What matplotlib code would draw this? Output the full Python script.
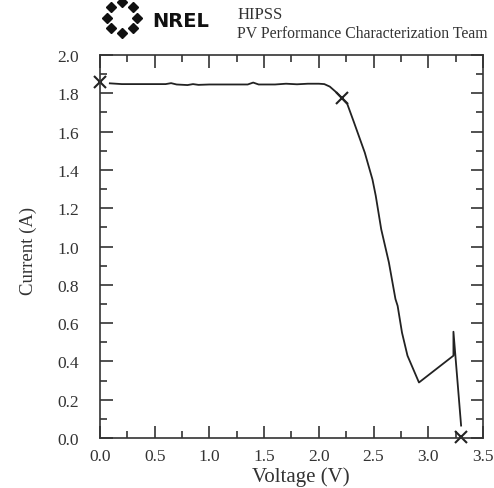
import matplotlib.pyplot as plt
import numpy as np

# I-V curve
VOLTAGE = [0.09, 0.2, 0.4, 0.6, 0.65, 0.7, 0.8, 0.85, 0.9, 1.0, 1.2, 1.35, 1.4, 1.45,
           1.6, 1.7, 1.8, 1.9, 2.0, 2.05, 2.1, 2.15, 2.21, 2.26, 2.32, 2.42, 2.49,
           2.52, 2.57, 2.64, 2.70, 2.72, 2.76, 2.81, 2.915, 3.23, 3.23, 3.30]
CURRENT = [1.852, 1.848, 1.848, 1.848, 1.853, 1.846, 1.843, 1.848, 1.844, 1.846, 1.846,
           1.846, 1.856, 1.846, 1.846, 1.85, 1.847, 1.85, 1.85, 1.848, 1.835, 1.81,
           1.774, 1.744, 1.65, 1.49, 1.35, 1.265, 1.09, 0.917, 0.726, 0.69, 0.55,
           0.43, 0.29, 0.43, 0.555, 0.065]
MARK_V = [0.0, 2.21, 3.30]
MARK_I = [1.857, 1.774, 0.005]

XTICKS = np.arange(0, 3.51, 0.5)
YTICKS = np.arange(0, 2.01, 0.2)

plt.rcParams['font.family'] = ['Liberation Serif', 'DejaVu Serif']

fig = plt.figure(figsize=[4.94, 4.89], dpi=100)
ax = fig.add_axes([0.2024, 0.1022, 0.7753, 0.7833])

ax.plot(VOLTAGE, CURRENT, color='#222222', lw=1.3)
ax.plot(MARK_V, MARK_I, 'x', color='#222222', ms=9, mew=1.5, clip_on=False)

ax.set_xlim(0, 3.5)
ax.set_ylim(0, 2.0)
ax.set_xticks(XTICKS)
ax.set_yticks(YTICKS)
ax.set_xticklabels(['{:.1f}'.format(v) for v in XTICKS])
ax.set_yticklabels(['{:.1f}'.format(v) for v in YTICKS])
ax.set_xticks(np.arange(0, 3.51, 0.25), minor=True)
ax.set_yticks(np.arange(0, 2.01, 0.1), minor=True)
ax.tick_params(which='both', direction='in', top=True, right=True,
               labelsize=12.5, colors='#333333', width=1.2)
ax.tick_params(which='major', length=9)
ax.tick_params(axis='x', which='major', pad=7)
ax.tick_params(axis='y', which='major', pad=15)
ax.tick_params(which='minor', length=5)
for s in ax.spines.values():
    s.set_linewidth(1.2)
    s.set_color('#333333')

ax.set_xlabel('Voltage (V)', fontsize=15, color='#333333')
ax.xaxis.set_label_coords(0.525, -0.075)
ax.set_ylabel('Current (A)', fontsize=13.5, color='#333333')
ax.yaxis.set_label_coords(-0.165, 0.49)

# header: logo and titles
fig.text(0.48, 0.969, 'HIPSS', fontsize=12, color='#333333', va='center')
fig.text(0.48, 0.930, 'PV Performance Characterization Team', fontsize=11.3,
         color='#333333', va='center')
fig.text(0.308, 0.956, 'NREL', fontsize=14, fontweight='bold', family='DejaVu Sans',
         color='#111111', va='center')
ang = np.linspace(0, 2 * np.pi, 8, endpoint=False)
fig.add_artist(plt.Line2D(0.247 + 0.031 * np.cos(ang), 0.962 + 0.031 * np.sin(ang),
                          ls='none', marker='D', ms=5, color='#111111'))

fig.savefig('out.png', dpi=100)
